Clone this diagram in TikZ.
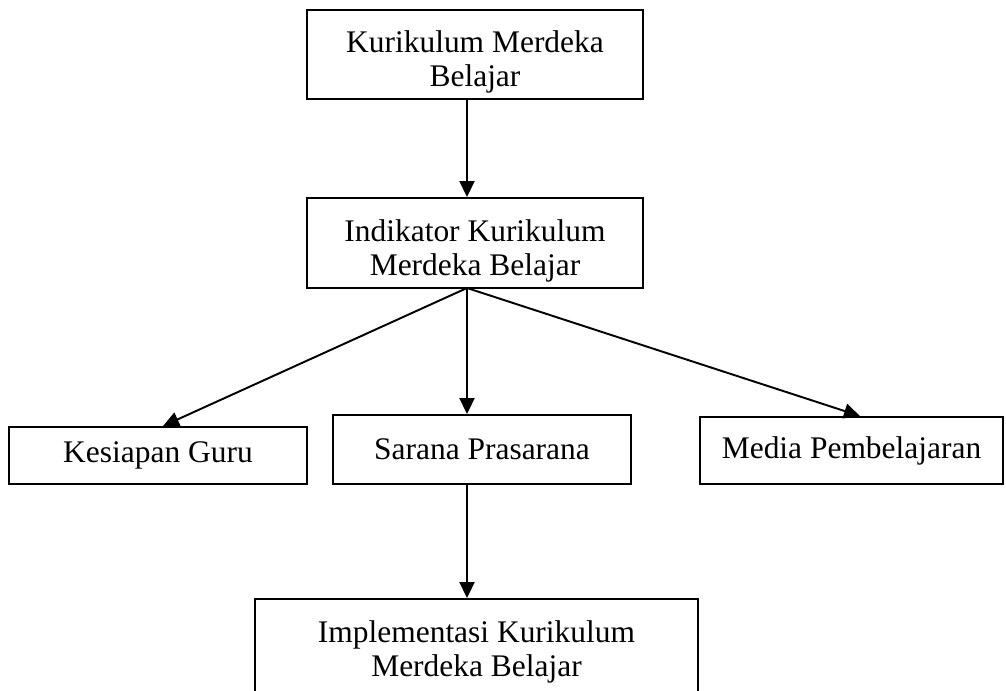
\documentclass[tikz,border=0pt]{standalone}
\usepackage{fontspec}
\setmainfont{Liberation Serif}
\usetikzlibrary{calc}
\usetikzlibrary{arrows.meta}

\begin{document}
\begin{tikzpicture}[x=0.02cm, y=-0.02cm,
    box/.style={draw, line width=1.1pt, align=center, inner sep=0pt,
      font=\fontsize{17.9}{19.4}\selectfont},
    arr/.style={line width=1.1pt, -{Triangle[length=0.32cm, width=0.3cm]}}]
    \useasboundingbox (0,0) rectangle (1006,690);
    \clip (0,0) rectangle (1006,690);

    \node[box, text height=1.43cm, minimum width=6.72cm, minimum height=1.78cm] (kmb)
      at (475,54.5) {Kurikulum Merdeka\\Belajar};
    \node[box, text height=1.43cm, minimum width=6.72cm, minimum height=1.8cm] (ind)
      at (475,243) {Indikator Kurikulum\\Merdeka Belajar};
    \node[box, minimum width=5.96cm, minimum height=1.14cm] (kg) at (158,455.5)
      {Kesiapan Guru};
    \node[box, minimum width=5.96cm, minimum height=1.38cm] (sp) at (482,449.5)
      {Sarana Prasarana};
    \node[box, minimum width=6.06cm, minimum height=1.34cm] (mp) at (851.5,450.5)
      {Media Pembelajaran};
    \node[box, minimum width=8.86cm, minimum height=2.1cm] (imp) at (476.5,651.5)
      {Implementasi Kurikulum\\Merdeka Belajar};

    \coordinate (hub) at (467,288);

    \draw[arr] (kmb.south -| hub) -- (ind.north -| hub);
    \draw[arr] (hub) -- ($(kg.north)+(5,0)$);
    \draw[arr] (hub) -- (sp.north -| hub);
    \draw[arr] (hub) -- ($(mp.north)+(8.5,0)$);
    \draw[arr] (sp.south -| hub) -- (imp.north -| hub);

  \end{tikzpicture}
\end{document}
